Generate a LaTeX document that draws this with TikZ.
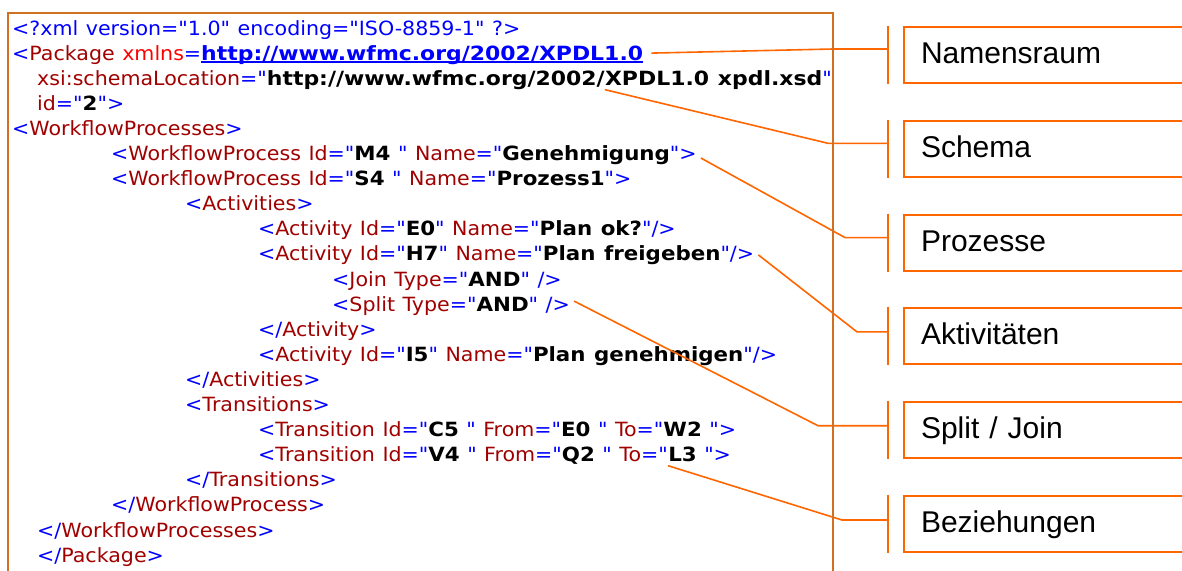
\documentclass[tikz,border=0pt]{standalone}
\usepackage{fontspec}
\setmainfont{DejaVu Sans}[Ligatures=TeXOff, FakeStretch=1.05, WordSpace=1.15,
    BoldFeatures={FakeStretch=1.09}]
\newfontface\urlbold{DejaVu Sans Bold}[Ligatures=TeXOff, FakeStretch=1.12, WordSpace=1.15]
\newfontfamily\labelfont{Liberation Sans}
\usetikzlibrary{calc}

\definecolor{tagblue}{RGB}{0,0,255}
\definecolor{namered}{RGB}{160,0,0}
\definecolor{nsred}{RGB}{255,0,0}
\definecolor{framebrown}{RGB}{208,112,32}
\definecolor{markorange}{RGB}{255,102,0}

% markup pieces
\newcommand{\tg}[1]{\textcolor{tagblue}{#1}}
\newcommand{\nm}[1]{\textcolor{namered}{#1}}
\newcommand{\vl}[1]{\textbf{#1}}
\newcommand{\ur}[1]{{\urlbold #1}}
\newcommand{\lnk}[1]{\begingroup\setbox0\hbox{#1}\rlap{\rule[-2.6pt]{\wd0}{1.8pt}}\box0\endgroup}

\begin{document}
\begin{tikzpicture}[x=1pt, y=-1pt,
    code/.style={anchor=base west, inner sep=0pt, font=\fontsize{19.6}{24}\selectfont},
    tag/.style={draw=markorange, line width=2pt, anchor=west, text width=290pt,
        inner xsep=17pt, align=left, minimum height=56pt, text height=22pt,
        text depth=5pt, font=\labelfont\fontsize{30}{36}\selectfont},
    lead/.style={draw=markorange, line width=1.6pt},
    bar/.style={draw=markorange, line width=2pt}]
    \useasboundingbox (0,0) rectangle (1182,570);

    % xml listing
    \node (L1) at (12, 35) [code] {\tg{<?xml version="1.0" encoding="ISO-8859-1" ?>}};
    \node (L2) at (12, 60.1) [code] {\tg{<}\nm{Package} \textcolor{nsred}{xmlns}\tg{=}\textcolor{tagblue}{\lnk{\ur{http://www.wfmc.org/2002/XPDL1.0}}}};
    \node (L3a) at (37, 85.2) [code] {\nm{xsi:schemaLocation}\tg{="}\ur{http://www.wfmc.org/2002/}};
    \node (L3b) at (L3a.base east) [code] {\ur{XPDL1.0 xpdl.xsd}\tg{"}};
    \node (L4) at (37, 110.3) [code] {\nm{id}\tg{="}\vl{2}\tg{">}};
    \node (L5) at (12, 135.4) [code] {\tg{<}\nm{WorkflowProcesses}\tg{>}};
    \node (L6) at (111, 160.5) [code] {\tg{<}\nm{WorkflowProcess Id}\tg{="}\vl{M4} \tg{"} \nm{Name}\tg{="}\vl{Genehmigung}\tg{">}};
    \node (L7) at (111, 185.6) [code] {\tg{<}\nm{WorkflowProcess Id}\tg{="}\vl{S4} \tg{"} \nm{Name}\tg{="}\vl{Prozess1}\tg{">}};
    \node (L8) at (185, 210.7) [code] {\tg{<}\nm{Activities}\tg{>}};
    \node (L9) at (258, 235.8) [code] {\tg{<}\nm{Activity Id}\tg{="}\vl{E0}\tg{"} \nm{Name}\tg{="}\vl{Plan ok?}\tg{"/>}};
    \node (L10) at (258, 260.9) [code] {\tg{<}\nm{Activity Id}\tg{="}\vl{H7}\tg{"} \nm{Name}\tg{="}\vl{Plan freigeben}\tg{"/>}};
    \node (L11) at (332, 286) [code] {\tg{<}\nm{Join Type}\tg{="}\vl{AND}\tg{"} \tg{/>}};
    \node (L12) at (332, 311.1) [code] {\tg{<}\nm{Split Type}\tg{="}\vl{AND}\tg{"} \tg{/>}};
    \node (L13) at (258, 336.2) [code] {\tg{</}\nm{Activity}\tg{>}};
    \node (L14) at (258, 361.3) [code] {\tg{<}\nm{Activity Id}\tg{="}\vl{I5}\tg{"} \nm{Name}\tg{="}\vl{Plan genehmigen}\tg{"/>}};
    \node (L15) at (185, 386.4) [code] {\tg{</}\nm{Activities}\tg{>}};
    \node (L16) at (185, 411.5) [code] {\tg{<}\nm{Transitions}\tg{>}};
    \node (L17) at (258, 436.6) [code] {\tg{<}\nm{Transition Id}\tg{="}\vl{C5} \tg{"} \nm{From}\tg{="}\vl{E0} \tg{"} \nm{To}\tg{="}\vl{W2} \tg{">}};
    \node (L18a) at (258, 461.7) [code] {\tg{<}\nm{Transition Id}\tg{="}\vl{V4} \tg{"} \nm{From}\tg{="}\vl{Q2} \tg{"} \nm{To}\tg{="}};
    \node (L18b) at (L18a.base east) [code] {\vl{L3} \tg{">}};
    \node (L19) at (185, 486.8) [code] {\tg{</}\nm{Transitions}\tg{>}};
    \node (L20) at (111, 511.9) [code] {\tg{</}\nm{WorkflowProcess}\tg{>}};
    \node (L21) at (37, 537) [code] {\tg{</}\nm{WorkflowProcesses}\tg{>}};
    \node (L22) at (37, 562.1) [code] {\tg{</}\nm{Package}\tg{>}};

    % labels on the right
    \node (ns) at (903, 55) [tag] {Namensraum};
    \node (sc) at (903, 148.8) [tag] {Schema};
    \node (pr) at (903, 242.6) [tag] {Prozesse};
    \node (ac) at (903, 336.4) [tag] {Aktivitäten};
    \node (sj) at (903, 430.2) [tag] {Split / Join};
    \node (bz) at (903, 524) [tag] {Beziehungen};

    \foreach \t in {ns, sc, pr, ac, sj, bz}
        \draw [bar] ($(\t.north west)+(-15,0)$) -- ($(\t.south west)+(-15,0)$);

    % leader lines
    \draw [lead] ($(L2.base east)+(8,-7)$) -- ($(ns.west)+(-70,-6)$) -- ($(ns.west)+(-15,-6)$);
    \draw [lead] (L3a.south east) -- ($(sc.west)+(-75,-5.5)$) -- ($(sc.west)+(-15,-5.5)$);
    \draw [lead] ($(L6.base east)+(4,-2.5)$) -- ($(pr.west)+(-58,-5)$) -- ($(pr.west)+(-15,-5)$);
    \draw [lead] ($(L10.base east)+(4,-6)$) -- ($(ac.west)+(-46,-4.5)$) -- ($(ac.west)+(-15,-4.5)$);
    \draw [lead] ($(L12.base east)+(4,-10)$) -- ($(sj.west)+(-85,-4.5)$) -- ($(sj.west)+(-15,-4.5)$);
    \draw [lead] ($(L18a.base east)+(0,4)$) -- ($(bz.west)+(-61,-4)$) -- ($(bz.west)+(-15,-4)$);

    % frame round the listing, open at the bottom
    \draw [framebrown, line width=2.2pt] (8,580) |- (833,13) -- (833,580);
\end{tikzpicture}
\end{document}
